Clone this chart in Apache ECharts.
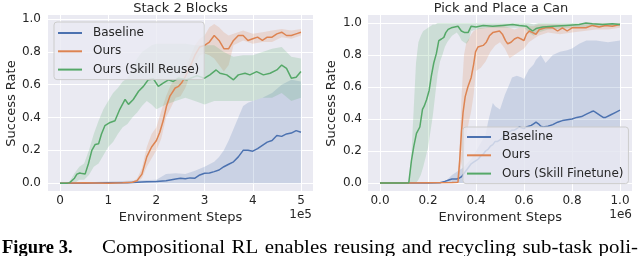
<!DOCTYPE html>
<html><head><meta charset="utf-8">
<script src="https://cdn.jsdelivr.net/npm/echarts@6/dist/echarts.min.js"></script>
<style>html,body{margin:0;padding:0;background:#fff}#c{width:640px;height:256px}</style>
</head><body><div id="c"></div>
<script>
// ---------- Stack 2 Blocks (x in units of 1e5 environment steps) ----------
const stackBaseX = [0,0.5,1.0,1.4,1.6,1.8,2.0,2.2,2.4,2.5,2.6,2.7,2.8,2.9,3.0,3.1,3.2,3.3,3.4,3.5,3.6,3.7,3.8,3.9,4.0,4.1,4.2,4.3,4.4,4.5,4.6,4.7,4.8,4.9,5.0];
const stackBaseY = [0,0,0.002,0.003,0.005,0.008,0.01,0.015,0.025,0.03,0.027,0.032,0.03,0.05,0.06,0.062,0.07,0.08,0.1,0.115,0.13,0.16,0.2,0.2,0.195,0.21,0.23,0.25,0.26,0.29,0.285,0.3,0.305,0.32,0.31];
const stackBaseBandX = [0,2.0,2.2,2.4,2.6,2.8,3.0,3.2,3.3,3.4,3.5,3.6,3.7,3.8,3.9,4.0,4.2,4.4,4.6,4.8,5.0];
const stackBaseLo = [0,0,0,0,0,0,0,0,0,0,0,0,0,0,0,0,0,0,0,0,0];
const stackBaseHi = [0,0.02,0.055,0.06,0.055,0.075,0.1,0.13,0.16,0.2,0.26,0.33,0.4,0.47,0.49,0.5,0.52,0.55,0.6,0.63,0.62];

const stackOursX = [0,0.5,1.0,1.3,1.5,1.6,1.7,1.8,1.9,2.0,2.07,2.14,2.21,2.28,2.39,2.46,2.52,2.6,2.7,2.8,2.9,3.0,3.1,3.2,3.3,3.4,3.5,3.6,3.7,3.8,3.9,4.0,4.1,4.2,4.3,4.4,4.5,4.6,4.7,4.8,4.9,5.0];
const stackOursY = [0,0.002,0,0.002,0.005,0.015,0.055,0.16,0.22,0.26,0.31,0.38,0.47,0.53,0.58,0.59,0.61,0.65,0.71,0.78,0.83,0.84,0.86,0.9,0.87,0.82,0.82,0.87,0.9,0.9,0.87,0.88,0.89,0.87,0.89,0.89,0.91,0.92,0.9,0.9,0.91,0.92];
const stackOursBandX = [1.5,1.6,1.7,1.8,1.9,2.0,2.1,2.2,2.3,2.4,2.5,2.6,2.7,2.8,2.9,3.0,3.1,3.2,3.3,3.4,3.5,3.6,3.8,4.0,4.2,4.4,4.6,4.8,5.0];
const stackOursLo = [0,0.005,0.03,0.1,0.15,0.2,0.27,0.4,0.46,0.52,0.53,0.58,0.66,0.72,0.78,0.79,0.78,0.76,0.72,0.68,0.72,0.84,0.87,0.85,0.86,0.86,0.89,0.88,0.9];
const stackOursHi = [0.005,0.03,0.09,0.22,0.3,0.34,0.44,0.53,0.6,0.64,0.66,0.7,0.77,0.84,0.88,0.9,0.95,0.97,0.95,0.92,0.9,0.91,0.93,0.91,0.92,0.93,0.94,0.93,0.94];

const stackReuseX = [0,0.15,0.2,0.3,0.35,0.41,0.46,0.52,0.59,0.66,0.73,0.8,0.86,0.93,1.04,1.14,1.24,1.35,1.42,1.52,1.63,1.73,1.83,1.94,2.04,2.14,2.25,2.35,2.46,2.63,2.84,3.0,3.11,3.24,3.32,3.46,3.6,3.7,3.84,3.94,4.08,4.22,4.36,4.5,4.6,4.7,4.8,4.9,5.0];
const stackReuseY = [0,0,0.003,0.03,0.055,0.062,0.058,0.055,0.12,0.2,0.236,0.24,0.3,0.35,0.37,0.38,0.45,0.51,0.48,0.51,0.56,0.59,0.63,0.635,0.59,0.61,0.63,0.62,0.64,0.63,0.655,0.64,0.66,0.69,0.67,0.66,0.63,0.66,0.67,0.66,0.68,0.66,0.67,0.69,0.72,0.7,0.64,0.645,0.68];
const stackReuseBandX = [0.15,0.2,0.3,0.4,0.5,0.6,0.7,0.8,0.9,1.0,1.1,1.2,1.3,1.4,1.5,1.6,1.7,1.8,1.9,2.0,2.2,2.4,2.6,2.8,3.0,3.2,3.4,3.6,3.8,4.0,4.2,4.4,4.6,4.8,5.0];
const stackReuseLo = [0,0,0,0.02,0.02,0.05,0.1,0.12,0.17,0.22,0.25,0.3,0.34,0.36,0.4,0.43,0.47,0.5,0.48,0.45,0.48,0.5,0.52,0.5,0.48,0.5,0.5,0.5,0.5,0.5,0.52,0.52,0.55,0.5,0.52];
const stackReuseHi = [0,0.01,0.06,0.1,0.12,0.2,0.3,0.38,0.45,0.5,0.55,0.58,0.62,0.64,0.7,0.76,0.8,0.82,0.84,0.85,0.85,0.85,0.85,0.84,0.84,0.84,0.8,0.77,0.78,0.78,0.8,0.82,0.83,0.77,0.76];

// ---------- Pick and Place a Can (x in units of 1e6 environment steps) ----------
const canBaseX = [0,0.1,0.2,0.25,0.27,0.29,0.3,0.32,0.33,0.34,0.35,0.36,0.37,0.38,0.39,0.4,0.41,0.42,0.43,0.44,0.45,0.46,0.47,0.48,0.49,0.5,0.51,0.52,0.53,0.54,0.55,0.56,0.57,0.58,0.59,0.6,0.61,0.62,0.63,0.64,0.65,0.66,0.67,0.68,0.7,0.72,0.74,0.76,0.78,0.8,0.82,0.84,0.86,0.88,0.89,0.9,0.92,0.93,0.94,0.96,0.98,1.0];
const canBaseY = [0,0,0,0.002,0.01,0.02,0.025,0.025,0.03,0.04,0.06,0.08,0.1,0.12,0.13,0.14,0.15,0.17,0.18,0.2,0.21,0.23,0.24,0.26,0.26,0.27,0.28,0.31,0.31,0.32,0.33,0.33,0.34,0.35,0.345,0.34,0.35,0.355,0.36,0.37,0.38,0.37,0.355,0.35,0.355,0.365,0.38,0.39,0.395,0.4,0.41,0.415,0.43,0.445,0.45,0.44,0.42,0.41,0.41,0.425,0.44,0.455];
const canBaseBandX = [0.25,0.28,0.3,0.33,0.35,0.38,0.4,0.42,0.44,0.45,0.46,0.47,0.48,0.5,0.52,0.54,0.55,0.57,0.59,0.6,0.62,0.64,0.65,0.67,0.69,0.72,0.75,0.78,0.8,0.83,0.86,0.9,0.95,1.0];
const canBaseLo = [0,0,0,0,0,0,0,0,0,0,0,0,0,0,0,0,0,0,0,0,0,0,0,0,0,0,0,0,0,0,0,0,0,0];
const canBaseHi = [0,0.02,0.05,0.08,0.1,0.15,0.2,0.25,0.3,0.38,0.44,0.5,0.48,0.46,0.55,0.62,0.66,0.67,0.66,0.65,0.71,0.74,0.77,0.8,0.75,0.8,0.82,0.83,0.84,0.87,0.89,0.89,0.88,0.89];

const canOursX = [0,0.1,0.2,0.3,0.325,0.332,0.339,0.346,0.355,0.366,0.38,0.39,0.398,0.408,0.43,0.443,0.456,0.47,0.498,0.51,0.523,0.532,0.546,0.56,0.574,0.588,0.6,0.61,0.622,0.636,0.65,0.664,0.69,0.72,0.74,0.76,0.78,0.8,0.83,0.858,0.885,0.913,0.94,0.968,1.0];
const canOursY = [0,0,0.002,0.003,0.005,0.14,0.31,0.44,0.54,0.6,0.66,0.74,0.82,0.85,0.86,0.88,0.92,0.94,0.95,0.93,0.89,0.87,0.88,0.9,0.91,0.9,0.89,0.93,0.95,0.94,0.93,0.96,0.97,0.97,0.95,0.97,0.95,0.97,0.97,0.97,0.985,0.975,0.985,0.98,0.99];
const canOursBandX = [0.32,0.33,0.34,0.35,0.36,0.37,0.38,0.39,0.4,0.42,0.44,0.46,0.48,0.5,0.52,0.54,0.56,0.58,0.6,0.62,0.64,0.66,0.7,0.75,0.8,0.85,0.9,0.95,1.0];
const canOursLo = [0,0.05,0.12,0.2,0.3,0.38,0.45,0.55,0.7,0.72,0.76,0.82,0.86,0.88,0.84,0.78,0.8,0.82,0.84,0.88,0.9,0.92,0.94,0.93,0.94,0.95,0.96,0.96,0.97];
const canOursHi = [0.005,0.15,0.55,0.8,0.88,0.9,0.93,0.95,0.96,0.97,0.97,0.98,0.985,0.99,0.98,0.97,0.96,0.97,0.97,0.98,0.98,0.99,0.99,0.99,0.985,0.99,1.0,0.995,1.0];

const canTuneX = [0,0.1,0.12,0.131,0.141,0.152,0.166,0.177,0.184,0.194,0.205,0.214,0.224,0.235,0.245,0.256,0.266,0.274,0.284,0.297,0.311,0.325,0.339,0.353,0.367,0.38,0.4,0.43,0.47,0.51,0.553,0.58,0.61,0.622,0.636,0.65,0.678,0.72,0.775,0.83,0.858,0.885,0.927,0.968,1.0];
const canTuneY = [0,0,0.002,0.14,0.23,0.31,0.35,0.46,0.48,0.52,0.58,0.67,0.75,0.81,0.89,0.9,0.91,0.94,0.96,0.97,0.975,0.98,0.95,0.94,0.94,0.98,0.975,0.985,0.98,0.985,0.99,0.985,0.98,0.965,0.95,0.965,0.975,0.98,0.985,0.99,1.0,0.995,0.99,0.995,0.99];
const canTuneBandX = [0.12,0.13,0.14,0.15,0.16,0.17,0.18,0.19,0.2,0.21,0.22,0.23,0.24,0.25,0.26,0.27,0.28,0.3,0.32,0.33,0.34,0.35,0.36,0.37,0.38,0.4,0.45,0.5,0.6,0.62,0.64,0.66,0.7,0.8,0.9,1.0];
const canTuneLo = [0,0,0,0,0.02,0.05,0.1,0.16,0.22,0.32,0.42,0.55,0.68,0.76,0.8,0.85,0.88,0.92,0.94,0.92,0.89,0.88,0.87,0.89,0.95,0.96,0.97,0.97,0.97,0.94,0.92,0.94,0.96,0.97,0.98,0.98];
const canTuneHi = [0.005,0.15,0.45,0.75,0.88,0.92,0.95,0.96,0.97,0.98,0.99,0.99,1.0,1.0,1.0,1.0,1.0,1.0,1.0,1.0,1.0,1.0,1.0,1.0,1.0,1.0,1.0,1.0,1.0,1.0,0.99,1.0,1.0,1.0,1.0,1.0];

// ---------- text ----------
const titles = ['Stack 2 Blocks', 'Pick and Place a Can'];
const legendLeft = ['Baseline', 'Ours', 'Ours (Skill Reuse)'];
const legendRight = ['Baseline', 'Ours', 'Ours (Skill Finetune)'];
const xName = 'Environment Steps';
const yName = 'Success Rate';
const xScales = ['1e5', '1e6'];
const captionBold = 'Figure 3.';
const captionWords = ['Compositional','RL','enables','reusing','and','recycling','sub-task','poli-'];

const BLUE = 'rgb(76,114,176)', ORANGE = 'rgb(221,132,82)', GREEN = 'rgb(85,168,104)';
const BLUE_F = 'rgba(76,114,176,0.2)', ORANGE_F = 'rgba(221,132,82,0.2)', GREEN_F = 'rgba(85,168,104,0.2)';
const FONT = 'DejaVu Sans';
const TXT = '#262626';

function pairs(xs, ys) { return xs.map((x, i) => [x, ys[i]]); }
function lineS(name, xs, ys, color, g) {
  return { type: 'line', name, xAxisIndex: g, yAxisIndex: g, data: pairs(xs, ys),
    symbol: 'none', silent: true, z: 3, lineStyle: { width: 1.5, color }, itemStyle: { color } };
}
function bandS(xs, lo, hi, fill, g) {
  return { type: 'custom', xAxisIndex: g, yAxisIndex: g, silent: true, z: 1, clip: true,
    data: xs.map((x, i) => [x, lo[i], hi[i]]),
    encode: { x: 0, y: [1, 2] },
    renderItem: function (params, api) {
      if (params.dataIndex !== 0) return null;
      const pts = [];
      for (let i = 0; i < xs.length; i++) pts.push(api.coord([xs[i], hi[i]]));
      for (let i = xs.length - 1; i >= 0; i--) pts.push(api.coord([xs[i], lo[i]]));
      return { type: 'polygon', shape: { points: pts }, style: { fill: fill, stroke: null } };
    } };
}

const series = [
  bandS(stackBaseBandX, stackBaseLo, stackBaseHi, BLUE_F, 0),
  bandS(stackOursBandX, stackOursLo, stackOursHi, ORANGE_F, 0),
  bandS(stackReuseBandX, stackReuseLo, stackReuseHi, GREEN_F, 0),
  bandS(canBaseBandX, canBaseLo, canBaseHi, BLUE_F, 1),
  bandS(canOursBandX, canOursLo, canOursHi, ORANGE_F, 1),
  bandS(canTuneBandX, canTuneLo, canTuneHi, GREEN_F, 1),
  lineS(legendLeft[0], stackBaseX, stackBaseY, BLUE, 0),
  lineS(legendLeft[1], stackOursX, stackOursY, ORANGE, 0),
  lineS(legendLeft[2], stackReuseX, stackReuseY, GREEN, 0),
  lineS(legendRight[0], canBaseX, canBaseY, BLUE, 1),
  lineS(legendRight[1], canOursX, canOursY, ORANGE, 1),
  lineS(legendRight[2], canTuneX, canTuneY, GREEN, 1)
];

function xAx(g, min, max, fmt) {
  return { gridIndex: g, type: 'value', min, max, splitNumber: 5,
    axisLine: { show: false }, axisTick: { show: false },
    splitLine: { show: true, showMinLine: false, showMaxLine: false, lineStyle: { color: '#ffffff', width: 1 } },
    axisLabel: { showMinLabel: false, showMaxLabel: false, margin: 4, fontSize: 12, fontFamily: FONT, color: TXT, formatter: fmt } };
}
function yAx(g, min, max, margin) {
  return { gridIndex: g, type: 'value', min, max, splitNumber: 5,
    axisLine: { show: false }, axisTick: { show: false },
    splitLine: { show: true, showMinLine: false, showMaxLine: false, lineStyle: { color: '#ffffff', width: 1 } },
    axisLabel: { showMinLabel: false, showMaxLabel: false, margin, fontSize: 12, fontFamily: FONT, color: TXT,
      formatter: v => v.toFixed(1) } };
}
function legendCfg(data, left, top, pad) {
  return { data, orient: 'vertical', left, top, padding: pad, icon: 'rect', itemWidth: 24, itemHeight: 2, itemGap: 4.3,
    backgroundColor: 'rgba(234,234,242,0.8)', borderColor: '#cccccc', borderWidth: 1, borderRadius: 3,
    selectedMode: false,
    textStyle: { fontSize: 12, fontFamily: FONT, color: TXT, lineHeight: 14, padding: [0, 0, 0, 6] } };
}

function txt(text, x, y, size, opts) {
  opts = opts || {};
  return { type: 'text', x, y, rotation: opts.rot || 0, scaleX: opts.sx || 1, silent: true,
    style: { text, fontSize: size, fontFamily: opts.family || FONT, fontWeight: opts.weight || 'normal',
      fill: opts.fill || TXT, align: opts.align || 'center', verticalAlign: opts.va || 'middle',
      textAlign: opts.align || 'center', textVerticalAlign: opts.va || 'middle' } };
}

const graphics = [
  txt(titles[0], 180.5, 8.4, 13),
  txt(titles[1], 501, 8.4, 13),
  txt(xName, 180.5, 217.8, 13),
  txt(xName, 500.3, 217.8, 13),
  txt(yName, 12, 103.5, 13, { rot: Math.PI / 2 }),
  txt(yName, 332, 103.5, 13, { rot: Math.PI / 2 }),
  txt(xScales[0], 312, 214.4, 12, { align: 'right' }),
  txt(xScales[1], 632, 214.4, 12, { align: 'right' }),
  txt(captionBold, 2, 248.2, 18.5, { family: 'Liberation Serif', weight: 'bold', align: 'left', fill: '#000' })
];
// caption: one justified line
(function () {
  const ctx = document.createElement('canvas').getContext('2d');
  ctx.font = '19px "Liberation Serif"';
  const sx = 1.1, start = 102, end = 638;
  const ws = captionWords.map(w => ctx.measureText(w).width * sx);
  const sum = ws.reduce((a, b) => a + b, 0);
  const gap = (end - start - sum) / (captionWords.length - 1);
  let x = start;
  captionWords.forEach((w, i) => {
    graphics.push(txt(w, x, 248.2, 19, { family: 'Liberation Serif', align: 'left', fill: '#000', sx }));
    x += ws[i] + gap;
  });
})();

const option = {
  animation: false,
  backgroundColor: '#ffffff',
  grid: [
    { left: 48, top: 15, width: 265, height: 176, show: true, backgroundColor: '#eaeaf2', borderWidth: 0 },
    { left: 368, top: 15, width: 264, height: 176, show: true, backgroundColor: '#eaeaf2', borderWidth: 0 }
  ],
  xAxis: [ xAx(0, -0.25, 5.25, v => String(Math.round(v))), xAx(1, -0.05, 1.05, v => v.toFixed(1)) ],
  yAxis: [ yAx(0, -0.048, 1.025, 7), yAx(1, -0.05, 1.05, 6) ],
  legend: [ legendCfg(legendLeft, 54, 22, [4, 5, 3, 4]), legendCfg(legendRight, 463, 127, [3, 5, 3, 4]) ],
  graphic: graphics,
  series
};
const chart = echarts.init(document.getElementById('c'), null, { renderer: 'canvas' });
chart.setOption(option);
</script></body></html>
